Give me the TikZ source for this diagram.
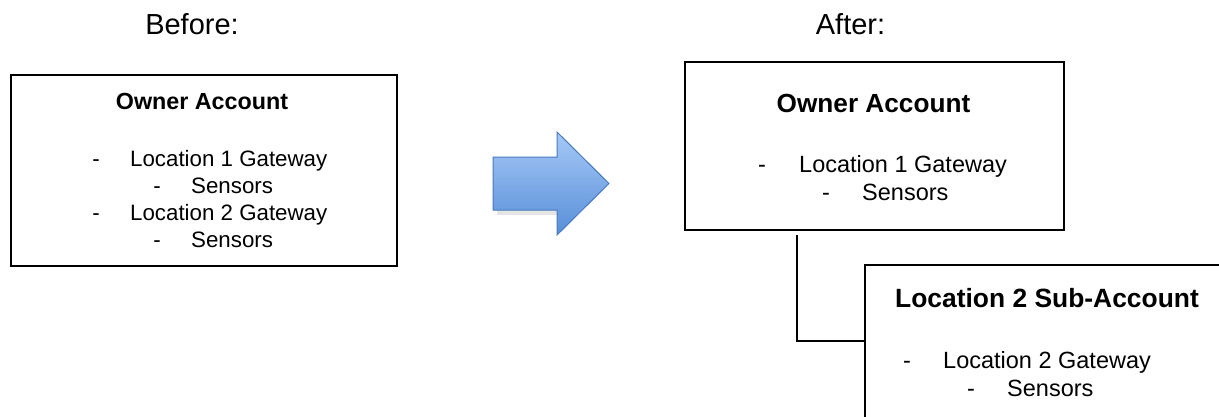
\documentclass[tikz,border=0pt]{standalone}
\usepackage{fontspec}
\setmainfont{Liberation Sans}
\definecolor{arrowTop}{RGB}{166,201,247}
\definecolor{arrowBot}{RGB}{88,142,216}
\definecolor{arrowEdge}{RGB}{72,122,192}
\begin{document}
\begin{tikzpicture}[x=1pt,y=-1pt,
  box/.style={draw=black, line width=2pt, inner sep=0pt, anchor=north west},
  conn/.style={draw=black, line width=2pt},
  title/.style={anchor=base, inner sep=0pt, font=\fontsize{29}{34}\selectfont},
  headL/.style={anchor=base, inner sep=0pt, font=\fontsize{23.3}{28}\selectfont\bfseries},
  itemL/.style={anchor=base west, inner sep=0pt, font=\fontsize{22.3}{27}\selectfont},
  dashL/.style={anchor=base, inner sep=0pt, font=\fontsize{22.3}{27}\selectfont},
  headR/.style={anchor=base, inner sep=0pt, font=\fontsize{26.2}{30}\selectfont\bfseries},
  headS/.style={anchor=base west, inner sep=0pt, font=\fontsize{26.4}{30}\selectfont\bfseries},
  itemR/.style={anchor=base west, inner sep=0pt, font=\fontsize{23.5}{28}\selectfont},
  dashR/.style={anchor=base, inner sep=0pt, font=\fontsize{23.5}{28}\selectfont},
  arrowshape/.style={top color=arrowTop, bottom color=arrowBot, draw=arrowEdge, line width=1pt, line join=miter}
]
\useasboundingbox (0,0) rectangle (1219,416);
\clip (0,0) rectangle (1219,416);

% titles
\node[title] (before) at (192,34) {Before:};
\node[title] (after) at (850.5,34) {After:};

% left box
\node[box, minimum width=386.5pt, minimum height=191pt] (b1) at (9.5,74) {};
\node[headL] (b1h) at (202,109) {Owner Account};
\node[dashL] (b1d1) at (96,166) {-};
\node[itemL] (b1t1) at (130,166) {Location 1 Gateway};
\node[dashL] (b1d2) at (157,193) {-};
\node[itemL] (b1t2) at (191,193) {Sensors};
\node[dashL] (b1d3) at (96,220) {-};
\node[itemL] (b1t3) at (130,220) {Location 2 Gateway};
\node[dashL] (b1d4) at (157,247) {-};
\node[itemL] (b1t4) at (191,247) {Sensors};

% arrow with shadow
\fill[black!10] (497,208) rectangle (557,215);
\shade[arrowshape] (493,157) -- (557,157) -- (557,132) -- (609,183.5) -- (557,235) -- (557,210) -- (493,210) -- cycle;

% right owner box
\node[box, minimum width=379pt, minimum height=168pt] (b2) at (684,61) {};
\node[headR] (b2h) at (873.5,112) {Owner Account};
\node[dashR] (b2d1) at (762,172) {-};
\node[itemR] (b2t1) at (799,172) {Location 1 Gateway};
\node[dashR] (b2d2) at (826,200) {-};
\node[itemR] (b2t2) at (862,200) {Sensors};

% sub-account box (runs off the picture)
\node[box, minimum width=420pt, minimum height=200pt] (b3) at (864,264) {};
\node[headS] (b3h) at (895,307) {Location 2 Sub-Account};
\node[dashR] (b3d1) at (907,368) {-};
\node[itemR] (b3t1) at (943,368) {Location 2 Gateway};
\node[dashR] (b3d2) at (971,396) {-};
\node[itemR] (b3t2) at (1007,396) {Sensors};

% connector
\coordinate (c1) at (797,235);
\coordinate (c2) at (864,341);
\draw[conn] (c1) |- (b3.west |- c2);
\end{tikzpicture}
\end{document}
